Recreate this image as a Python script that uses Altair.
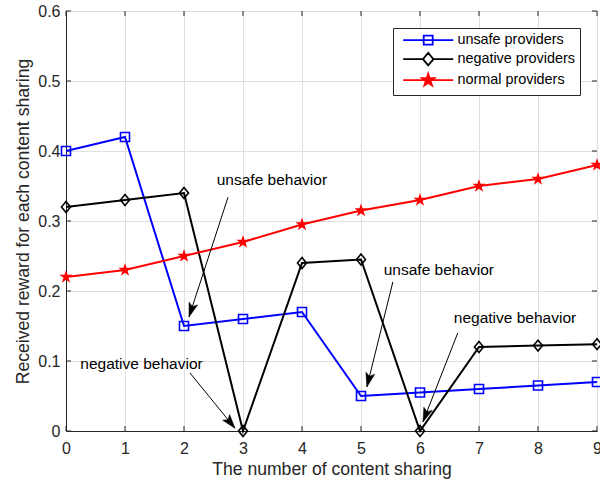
import math
import altair as alt
import pandas as pd

# ---------------- data ----------------
steps = list(range(10))
unsafe = [0.40, 0.42, 0.15, 0.16, 0.17, 0.05, 0.055, 0.06, 0.065, 0.07]
negative = [0.32, 0.33, 0.34, 0.0, 0.24, 0.245, 0.0, 0.12, 0.122, 0.124]
normal = [0.22, 0.23, 0.25, 0.27, 0.295, 0.315, 0.33, 0.35, 0.36, 0.38]
series_names = ["unsafe providers", "negative providers", "normal providers"]
series_colors = ["#0000ff", "#000000", "#ff0000"]

x_ticks = list(range(10))
y_ticks = [0.0, 0.1, 0.2, 0.3, 0.4, 0.5, 0.6]

ann_labels = ["unsafe behavior", "negative behavior", "unsafe behavior", "negative behavior"]
ann_x = [3.49, 1.28, 6.32, 7.61]
ann_y = [0.359, 0.0957, 0.230, 0.161]

arrow_x_tail = [2.746, 2.10, 5.54, 6.64]
arrow_y_tail = [0.334, 0.083, 0.213, 0.140]
arrow_x_head = [2.085, 2.864, 5.10, 6.05]
arrow_y_head = [0.163, 0.004, 0.063, 0.013]

# ---------------- layout / style ----------------
W, H = 531, 420
X_DOM = [0, 9]
Y_DOM = [0, 0.6]
FONT = "Liberation Sans"
AX = "#262626"
GRID = "#dfdfdf"

SQUARE = "M-1,-1 H1 V1 H-1 Z"
DIAMOND = "M0,-1.2 L1,0 L0,1.2 L-1,0 Z"


def star_path(r_out=1.0, ratio=0.382):
    pts = []
    for k in range(10):
        r = r_out if k % 2 == 0 else r_out * ratio
        a = math.radians(-90 + 36 * k)
        pts.append((r * math.cos(a), r * math.sin(a)))
    return "M" + " L".join(f"{px:.3f},{py:.3f}" for px, py in pts) + " Z"


STAR = star_path()
# legend symbols: line + marker (5 px per unit with symbolSize 100);
# square and diamond are traced twice in opposite directions so they stay hollow
LEG_SQ = ("M-5,0 H5 M-0.9,-0.9 H0.9 V0.9 H-0.9 Z "
          "M-0.9,-0.9 V0.9 H0.9 V-0.9 Z")
LEG_DI = ("M-5,0 H-1.05 M1.05,0 H5 M0,-1.25 L1.05,0 L0,1.25 L-1.05,0 Z "
          "M0,-1.25 L-1.05,0 L0,1.25 L1.05,0 Z")
LEG_ST = "M-5,0 H5 " + " ".join(star_path(r) for r in (1.3, 1.05, 0.8, 0.55, 0.3))

df = pd.DataFrame({
    "x": steps * 3,
    "y": unsafe + negative + normal,
    "series": [n for n in series_names for _ in steps],
})

PX_X = W / (X_DOM[1] - X_DOM[0])
PX_Y = H / (Y_DOM[1] - Y_DOM[0])
angles = []
for tx, ty, hx, hy in zip(arrow_x_tail, arrow_y_tail, arrow_x_head, arrow_y_head):
    dx = (hx - tx) * PX_X
    dy = -(hy - ty) * PX_Y
    angles.append(math.degrees(math.atan2(dx, -dy)) % 360)

arrows = pd.DataFrame({
    "x": arrow_x_tail, "y": arrow_y_tail,
    "x2": arrow_x_head, "y2": arrow_y_head, "angle": angles,
})
ann = pd.DataFrame({"x": ann_x, "y": ann_y, "label": ann_labels})
xt = pd.DataFrame({"x": x_ticks})
yt = pd.DataFrame({"y": y_ticks})

xs = alt.Scale(domain=X_DOM, nice=False, zero=False)
ys = alt.Scale(domain=Y_DOM, nice=False, zero=False)
cs = alt.Scale(domain=series_names, range=series_colors)

x_axis = alt.Axis(values=x_ticks, format="d", title="The number of content sharing",
                  grid=True, gridColor=GRID, domainColor=AX, ticks=False,
                  labelFont=FONT, labelFontSize=16, labelColor=AX, labelPadding=9,
                  labelFlush=False, labelOverlap=False,
                  titleFont=FONT, titleFontSize=17.6, titleFontWeight="normal",
                  titleColor=AX, titlePadding=4)
y_axis = alt.Axis(values=y_ticks, format=".1~f", title="Received reward for each content sharing",
                  grid=True, gridColor=GRID, domainColor=AX, ticks=False,
                  labelFont=FONT, labelFontSize=16, labelColor=AX, labelPadding=6,
                  labelFlush=False, labelOverlap=False,
                  titleFont=FONT, titleFontSize=17.6, titleFontWeight="normal",
                  titleColor=AX, titlePadding=5)

legend = alt.Legend(
    orient="none", legendX=327, legendY=17, title=None,
    fillColor="white", strokeColor="#262626", padding=5,
    labelFont=FONT, labelFontSize=14.4, labelColor="black", labelOffset=22,
    symbolSize=100, symbolStrokeWidth=1.8, symbolOffset=23, rowPadding=0,
    symbolOpacity=1, symbolFillColor="transparent",
)

# invisible layer that carries the legend (line + marker symbols)
legend_carrier = alt.Chart(df).mark_point(filled=False, opacity=0).encode(
    x=alt.X("x:Q", scale=xs, axis=x_axis),
    y=alt.Y("y:Q", scale=ys, axis=y_axis),
    color=alt.Color("series:N", scale=cs, sort=series_names, legend=legend),
    shape=alt.Shape("series:N", sort=series_names, legend=legend,
                    scale=alt.Scale(domain=series_names, range=[LEG_SQ, LEG_DI, LEG_ST])),
)

lines = alt.Chart(df).mark_line(strokeWidth=2).encode(
    x=alt.X("x:Q", scale=xs),
    y=alt.Y("y:Q", scale=ys),
    color=alt.Color("series:N", scale=cs, sort=series_names, legend=None),
    detail="series:N",
)

marker_layers = []
for name, shape, size, filled in [
    ("unsafe providers", SQUARE, 81, False),
    ("negative providers", DIAMOND, 81, False),
    ("normal providers", STAR, 196, True),
]:
    m = alt.Chart(df).transform_filter(alt.datum.series == name).mark_point(
        shape=shape, size=size, filled=filled, strokeWidth=1.6, opacity=1
    ).encode(
        x=alt.X("x:Q", scale=xs),
        y=alt.Y("y:Q", scale=ys),
        color=alt.Color("series:N", scale=cs, sort=series_names, legend=None),
    )
    marker_layers.append(m)

shafts = alt.Chart(arrows).mark_rule(color="black", strokeWidth=1).encode(
    x=alt.X("x:Q", scale=xs),
    y=alt.Y("y:Q", scale=ys),
    x2="x2:Q", y2="y2:Q",
)
heads = alt.Chart(arrows).mark_point(
    shape="M0,0 L-4.5,14 L0,11 L4.5,14 Z", size=4, filled=True, color="black", opacity=1,
    strokeWidth=0.5, stroke="black",
).encode(
    x=alt.X("x2:Q", scale=xs),
    y=alt.Y("y2:Q", scale=ys),
    angle=alt.Angle("angle:Q", scale=None),
)
texts = alt.Chart(ann).mark_text(
    font=FONT, fontSize=15.5, color="black", align="center", baseline="middle"
).encode(
    x=alt.X("x:Q", scale=xs),
    y=alt.Y("y:Q", scale=ys),
    text="label:N",
)

tick_len = 5
tb = alt.Chart(xt).mark_rule(color=AX).encode(
    x=alt.X("x:Q", scale=xs), y=alt.value(H), y2=alt.value(H - tick_len))
tt = alt.Chart(xt).mark_rule(color=AX).encode(
    x=alt.X("x:Q", scale=xs), y=alt.value(0), y2=alt.value(tick_len))
tl = alt.Chart(yt).mark_rule(color=AX).encode(
    y=alt.Y("y:Q", scale=ys), x=alt.value(0), x2=alt.value(tick_len))
tr = alt.Chart(yt).mark_rule(color=AX).encode(
    y=alt.Y("y:Q", scale=ys), x=alt.value(W), x2=alt.value(W - tick_len))

chart = alt.layer(
    legend_carrier, tb, tt, tl, tr, lines, *marker_layers, shafts, heads, texts
).properties(
    width=W, height=H,
    autosize=alt.AutoSizeParams(type="none"),
    padding={"left": 66, "top": 11, "right": 3, "bottom": 52},
    background="white",
).configure_view(stroke=AX, strokeWidth=1)

chart.save("out.html", embed_options={"renderer": "svg", "actions": False})
